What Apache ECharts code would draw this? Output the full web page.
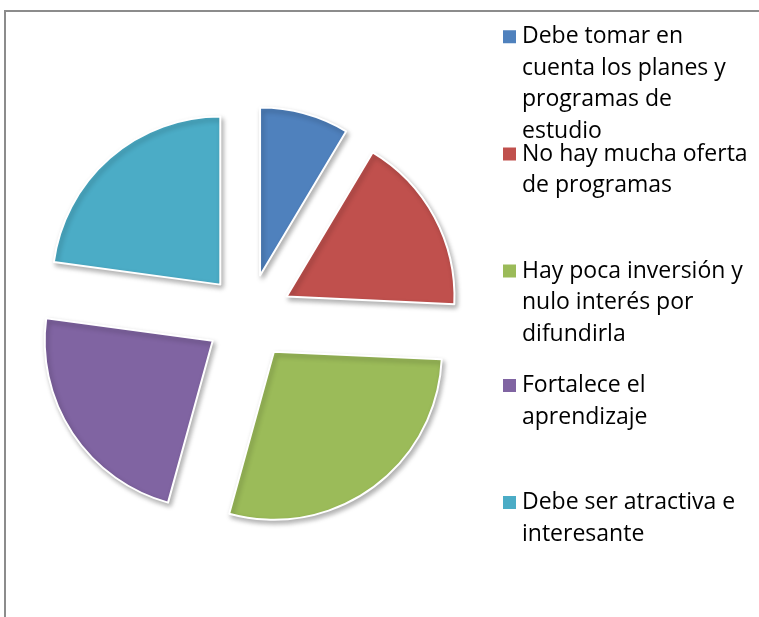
<!DOCTYPE html>
<html>
<head>
<meta charset="utf-8">
<script src="https://cdn.jsdelivr.net/npm/echarts@6/dist/echarts.min.js"></script>
<style>
  html, body { margin: 0; padding: 0; background: #fff; }
  #chart { width: 759px; height: 617px; }
</style>
</head>
<body>
<div id="chart"></div>
<script>
// categorías y valores
const categories = [
  'Debe tomar en cuenta los planes y programas de estudio',
  'No hay mucha oferta de programas',
  'Hay poca inversión y nulo interés por difundirla',
  'Fortalece el aprendizaje',
  'Debe ser atractiva e interesante'
];
const values = [3, 6, 10, 8, 8];
// texto de la leyenda, cortado en líneas como en el original
const legendLines = [
  ['Debe tomar en', 'cuenta los planes y', 'programas de', 'estudio'],
  ['No hay mucha oferta', 'de programas'],
  ['Hay poca inversión y', 'nulo interés por', 'difundirla'],
  ['Fortalece el', 'aprendizaje'],
  ['Debe ser atractiva e', 'interesante']
];
const colors = ['#4F81BD', '#C0504D', '#9BBB59', '#8064A2', '#4BACC6'];

const lineH = 31.5;
// centro vertical de cada marcador
const markerY = [36.7, 154, 271, 385.5, 502.5];

const myChart = echarts.init(document.getElementById('chart'));

// una leyenda por elemento: líneas vacías arriba para que la primera
// línea del texto quede a la altura del marcador
const legends = categories.map((name, i) => {
  const n = legendLines[i].length;
  return {
    data: [name],
    orient: 'vertical',
    left: 501,
    top: markerY[i] - (2 * n - 1) * lineH / 2,
    padding: 0,
    itemWidth: 15,
    itemHeight: 15,
    icon: 'rect',
    selectedMode: false,
    formatter: () => '\n'.repeat(n - 1) + legendLines[i].join('\n'),
    textStyle: {
      fontFamily: 'Open Sans',
      fontSize: 23,
      lineHeight: lineH,
      color: '#000'
    }
  };
});

const option = {
  animation: false,
  color: colors,
  legend: legends,
  graphic: [
    {
      type: 'polyline',
      shape: { points: [[5, 617], [5, 11], [759, 11]] },
      style: { stroke: '#8c8c8c', lineWidth: 2, fill: null },
      silent: true
    }
  ],
  series: [
    {
      type: 'pie',
      center: [248.6, 317],
      radius: 168,
      startAngle: 90,
      selectedMode: 'multiple',
      selectedOffset: 43,
      label: { show: false },
      labelLine: { show: false },
      emphasis: { disabled: true },
      itemStyle: {
        borderColor: '#fff',
        borderWidth: 2,
        shadowBlur: 5,
        shadowOffsetX: 2,
        shadowOffsetY: 3,
        shadowColor: 'rgba(0,0,0,0.3)'
      },
      data: categories.map((name, i) => ({ name, value: values[i], selected: true }))
    }
  ]
};

myChart.setOption(option);
</script>
</body>
</html>
